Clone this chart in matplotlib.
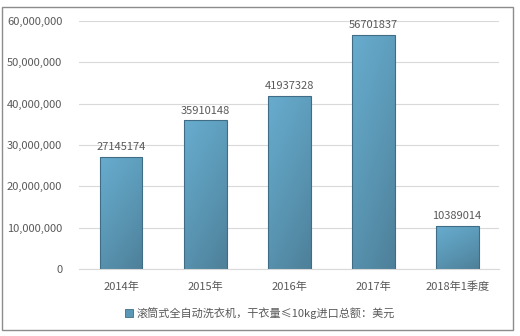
import numpy as np
import matplotlib
matplotlib.use("Agg")
import matplotlib.pyplot as plt
from matplotlib.patches import Rectangle
from matplotlib.colors import LinearSegmentedColormap

plt.rcParams['font.family'] = ['Noto Sans CJK SC', 'DejaVu Sans']

categories = ["2014年", "2015年", "2016年", "2017年", "2018年1季度"]
values = [27145174, 35910148, 41937328, 56701837, 10389014]
legend_label = "滚筒式全自动洗衣机，干衣量≤10kg进口总额：美元"

text_col = "#595959"
cmap = LinearSegmentedColormap.from_list("bar", ["#4e8099", "#5b98b6", "#68acce"])

fig = plt.figure(figsize=(5.2, 3.36), dpi=100)
ax = fig.add_axes([0.152, 0.2, 0.808, 0.7375])

# outer frame
fig.patches.append(Rectangle((2 / 520, 6 / 336), 511 / 520, 323 / 336,
                             transform=fig.transFigure, fill=False,
                             edgecolor="#8c8c8c", lw=1.0))

x = np.arange(len(categories))
bars = ax.bar(x, values, width=0.51, color="none", edgecolor="#3f6d85", lw=0.8, zorder=3)

# diagonal gradient inside each bar: light top-left, dark bottom-right
grad = np.linspace(0, 1, 64)
gx, gy = np.meshgrid(grad, grad)
g = 1 - (gx * 0.35 + gy * 0.65)
for b in bars:
    x0, w, h = b.get_x(), b.get_width(), b.get_height()
    im = ax.imshow(g, cmap=cmap, extent=[x0, x0 + w, 0, h], origin="upper",
                   aspect="auto", zorder=2, vmin=0, vmax=1)
    im.set_clip_path(b)

for xi, v in zip(x, values):
    ax.text(xi, v + 1.2e6, str(v), ha="center", va="bottom", fontsize=8, color=text_col)

ax.set_xlim(-0.5, len(categories) - 0.5)
ax.set_ylim(0, 60000000)
ax.set_yticks(np.arange(0, 60000001, 10000000))
ax.set_yticklabels([f"{t:,}" for t in range(0, 60000001, 10000000)])
ax.set_xticks(x)
ax.set_xticklabels(categories)
ax.tick_params(axis="both", length=0, labelsize=8, labelcolor=text_col)
ax.tick_params(axis="y", pad=12)
ax.tick_params(axis="x", pad=9)
ax.grid(axis="y", color="#d9d9d9", lw=0.8, zorder=0)
ax.set_axisbelow(True)
for s in ["top", "right", "left"]:
    ax.spines[s].set_visible(False)
ax.spines["bottom"].set_color("#d9d9d9")

handle = Rectangle((0, 0), 1, 1, facecolor="#5b98b6", edgecolor="#3f6d85", lw=0.6)
fig.legend([handle], [legend_label], loc="center", bbox_to_anchor=(0.5, 0.068),
           frameon=False, fontsize=8, labelcolor=text_col,
           handlelength=0.7, handleheight=0.7, handletextpad=0.3)

fig.savefig("out.png", dpi=100)
